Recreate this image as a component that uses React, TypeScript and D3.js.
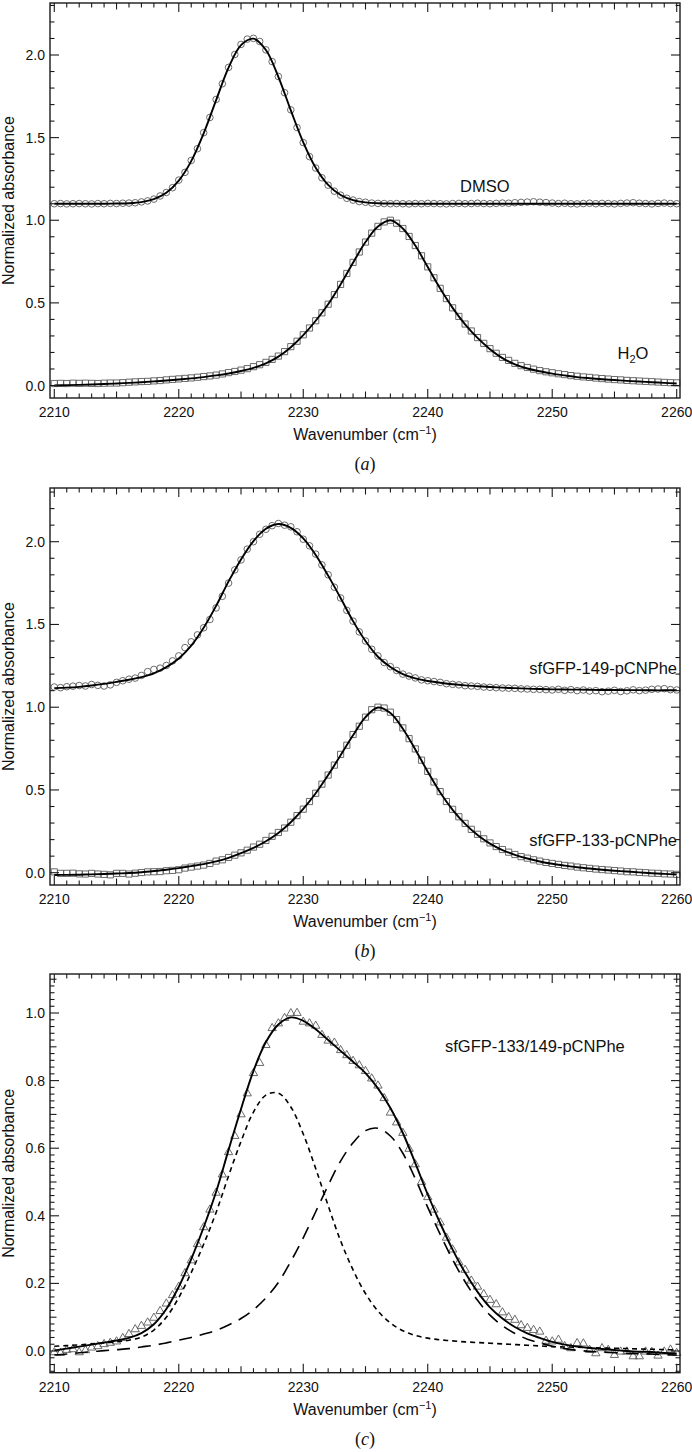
import React from "react";
import * as d3 from "d3";

// ---------------- data ----------------
const X_TICK_VALUES = [2210, 2220, 2230, 2240, 2250, 2260];
const X_TICK_LABELS = ["2210", "2220", "2230", "2240", "2250", "2260"];
const Y_TICKS_AB = [0, 0.5, 1.0, 1.5, 2.0];
const Y_TICK_LABELS_AB = ["0.0", "0.5", "1.0", "1.5", "2.0"];
const Y_TICKS_C = [0, 0.2, 0.4, 0.6, 0.8, 1.0];
const Y_TICK_LABELS_C = ["0.0", "0.2", "0.4", "0.6", "0.8", "1.0"];

// fitted curves sampled every 1 cm-1 from 2210 to 2260
const FIT_X0 = 2210;
const FIT_DX = 1;
// measured points every 0.5 cm-1 from 2210 to 2260
const PT_X0 = 2210;
const PT_DX = 0.5;

// panel (a)
const DMSO_FIT = [
  1.1, 1.1, 1.1, 1.1, 1.1,
  1.101, 1.103, 1.11, 1.128, 1.166,
  1.24, 1.358, 1.526, 1.727, 1.924,
  2.06, 2.099, 2.03, 1.868, 1.665,
  1.472, 1.318, 1.214, 1.153, 1.122,
  1.108, 1.103, 1.101, 1.1, 1.1,
  1.1, 1.1, 1.1, 1.1, 1.1,
  1.1, 1.1, 1.1, 1.1, 1.1,
  1.1, 1.1, 1.1, 1.1, 1.1,
  1.1, 1.1, 1.1, 1.1, 1.1,
  1.1,
];
const DMSO_PTS = [
  1.1, 1.101, 1.099, 1.1, 1.101, 1.1, 1.099, 1.101, 1.1, 1.102,
  1.101, 1.103, 1.104, 1.106, 1.111, 1.117, 1.128, 1.147, 1.168, 1.197,
  1.243, 1.29, 1.362, 1.433, 1.53, 1.622, 1.731, 1.826, 1.925, 2.003,
  2.064, 2.096, 2.101, 2.082, 2.031, 1.96, 1.87, 1.772, 1.668, 1.561,
  1.47, 1.385, 1.316, 1.257, 1.212, 1.176, 1.152, 1.133, 1.122, 1.113,
  1.109, 1.104, 1.102, 1.101, 1.1, 1.101, 1.1, 1.099, 1.101, 1.1,
  1.102, 1.101, 1.1, 1.099, 1.101, 1.102, 1.1, 1.101, 1.103, 1.101,
  1.1, 1.102, 1.104, 1.103, 1.106, 1.108, 1.11, 1.112, 1.109, 1.107,
  1.104, 1.101, 1.103, 1.1, 1.099, 1.101, 1.103, 1.1, 1.102, 1.101,
  1.099, 1.102, 1.104, 1.106, 1.103, 1.101, 1.099, 1.102, 1.104, 1.101,
  1.1,
];
const H2O_FIT = [
  0.0, 0.002, 0.004, 0.006, 0.009,
  0.012, 0.016, 0.02, 0.025, 0.03,
  0.036, 0.043, 0.051, 0.061, 0.073,
  0.088, 0.107, 0.134, 0.175, 0.232,
  0.305, 0.392, 0.492, 0.612, 0.743,
  0.868, 0.962, 1.0, 0.95, 0.847,
  0.717, 0.587, 0.47, 0.37, 0.288,
  0.22, 0.166, 0.128, 0.103, 0.086,
  0.072, 0.061, 0.051, 0.044, 0.038,
  0.033, 0.028, 0.024, 0.02, 0.016,
  0.012,
];
const H2O_PTS = [
  0.012, 0.013, 0.012, 0.014, 0.013, 0.014, 0.013, 0.012, 0.014, 0.015,
  0.015, 0.017, 0.02, 0.022, 0.024, 0.025, 0.028, 0.03, 0.034, 0.037,
  0.04, 0.043, 0.046, 0.05, 0.054, 0.058, 0.063, 0.07, 0.078, 0.085,
  0.093, 0.102, 0.114, 0.126, 0.14, 0.158, 0.178, 0.205, 0.235, 0.268,
  0.307, 0.348, 0.392, 0.44, 0.492, 0.55, 0.612, 0.678, 0.745, 0.808,
  0.868, 0.922, 0.963, 0.99, 1.0, 0.982, 0.95, 0.902, 0.847, 0.785,
  0.718, 0.652, 0.588, 0.526, 0.47, 0.418, 0.372, 0.33, 0.29, 0.255,
  0.223, 0.195, 0.17, 0.152, 0.134, 0.12, 0.109, 0.099, 0.09, 0.083,
  0.077, 0.071, 0.066, 0.06, 0.056, 0.052, 0.049, 0.045, 0.042, 0.039,
  0.036, 0.034, 0.031, 0.029, 0.027, 0.025, 0.023, 0.021, 0.019, 0.017,
  0.016,
];

// panel (b)
const P149_FIT = [
  1.115, 1.118, 1.123, 1.131, 1.141,
  1.153, 1.166, 1.182, 1.205, 1.242,
  1.294, 1.372, 1.48, 1.612, 1.76,
  1.893, 2.004, 2.078, 2.107, 2.084,
  2.02, 1.92, 1.795, 1.66, 1.52,
  1.4, 1.305, 1.243, 1.2, 1.174,
  1.158, 1.148, 1.139, 1.132, 1.127,
  1.122, 1.118, 1.115, 1.112, 1.11,
  1.108, 1.107, 1.106, 1.105, 1.104,
  1.104, 1.103, 1.103, 1.102, 1.102,
  1.102,
];
const P149_PTS = [
  1.122, 1.118, 1.124, 1.127, 1.131, 1.128, 1.137, 1.132, 1.128, 1.135,
  1.15, 1.16, 1.169, 1.176, 1.192, 1.215, 1.228, 1.236, 1.252, 1.28,
  1.31, 1.36, 1.395, 1.437, 1.48, 1.53, 1.6, 1.67, 1.75, 1.83,
  1.89, 1.955, 2.0, 2.045, 2.075, 2.097, 2.11, 2.1, 2.09, 2.06,
  2.015, 1.975, 1.925, 1.86, 1.8, 1.725, 1.66, 1.585, 1.52, 1.455,
  1.4, 1.35, 1.31, 1.27, 1.245, 1.222, 1.2, 1.188, 1.177, 1.165,
  1.16, 1.155, 1.15, 1.142, 1.138, 1.135, 1.13, 1.128, 1.126, 1.122,
  1.12, 1.118, 1.116, 1.115, 1.114, 1.111, 1.11, 1.108, 1.108, 1.106,
  1.104, 1.108, 1.102, 1.106, 1.1, 1.104, 1.098, 1.1, 1.094, 1.097,
  1.102, 1.095, 1.099, 1.105, 1.1, 1.103, 1.108, 1.11, 1.112, 1.106,
  1.104,
];
const P133_FIT = [
  -0.014, -0.013, -0.012, -0.01, -0.008,
  -0.005, -0.002, 0.003, 0.01, 0.018,
  0.028, 0.04, 0.052, 0.068, 0.09,
  0.118, 0.15, 0.19, 0.24, 0.305,
  0.385, 0.48, 0.59, 0.71, 0.83,
  0.94, 0.998, 0.965, 0.87, 0.745,
  0.61, 0.485, 0.38, 0.295, 0.228,
  0.176, 0.137, 0.108, 0.086, 0.068,
  0.054, 0.043, 0.033, 0.025, 0.018,
  0.012, 0.007, 0.002, -0.003, -0.007,
  -0.011,
];
const P133_PTS = [
  0.005, -0.004, -0.004, -0.003, -0.007, -0.008, -0.004, -0.008, -0.01, -0.013,
  -0.004, -0.004, -0.008, -0.003, 0.001, 0.005, 0.006, 0.007, 0.012, 0.014,
  0.018, 0.028, 0.034, 0.04, 0.046, 0.056, 0.07, 0.078, 0.092, 0.106,
  0.12, 0.136, 0.155, 0.172, 0.195, 0.22, 0.243, 0.27, 0.305, 0.345,
  0.384, 0.43, 0.48, 0.535, 0.59, 0.65, 0.715, 0.77, 0.835, 0.885,
  0.94, 0.985, 1.0, 0.995, 0.97, 0.925, 0.875, 0.81, 0.748, 0.68,
  0.612, 0.548, 0.49, 0.43, 0.383, 0.338, 0.298, 0.262, 0.232, 0.205,
  0.18, 0.158, 0.14, 0.124, 0.11, 0.097, 0.088, 0.078, 0.07, 0.062,
  0.056, 0.05, 0.044, 0.04, 0.034, 0.03, 0.026, 0.022, 0.019, 0.016,
  0.013, 0.01, 0.006, 0.005, 0.002, 0.0, -0.003, -0.004, -0.007, -0.008,
  -0.01,
];

// panel (c)
const C_TOTAL_FIT = [
  0.002, 0.007, 0.013, 0.019, 0.025,
  0.031, 0.039, 0.053, 0.079, 0.124,
  0.19, 0.272, 0.366, 0.471, 0.595,
  0.716, 0.829, 0.914, 0.966, 0.987,
  0.977, 0.952, 0.92, 0.888, 0.856,
  0.822, 0.777, 0.719, 0.645, 0.556,
  0.463, 0.378, 0.3, 0.232, 0.175,
  0.129, 0.096, 0.071, 0.052, 0.039,
  0.027, 0.019, 0.013, 0.009, 0.006,
  0.003, 0.0, -0.002, -0.003, -0.006,
  -0.007,
];
const C_BAND1_FIT = [
  0.014, 0.016, 0.018, 0.021, 0.024,
  0.027, 0.032, 0.041, 0.062, 0.1,
  0.158, 0.232, 0.316, 0.41, 0.518,
  0.62, 0.707, 0.757, 0.763, 0.722,
  0.642, 0.54, 0.43, 0.326, 0.24,
  0.17, 0.118, 0.083, 0.06, 0.046,
  0.038, 0.033, 0.03, 0.027, 0.025,
  0.023, 0.021, 0.019, 0.017, 0.015,
  0.013, 0.012, 0.011, 0.01, 0.009,
  0.008, 0.007, 0.006, 0.005, 0.004,
  0.003,
];
const C_BAND2_FIT = [
  -0.012, -0.009, -0.005, -0.002, 0.001,
  0.004, 0.007, 0.012, 0.017, 0.024,
  0.032, 0.04, 0.05, 0.061, 0.077,
  0.096, 0.122, 0.157, 0.203, 0.265,
  0.335, 0.412, 0.49, 0.562, 0.616,
  0.652, 0.659, 0.636, 0.585, 0.51,
  0.425, 0.345, 0.27, 0.205, 0.15,
  0.106, 0.075, 0.052, 0.035, 0.024,
  0.014, 0.007, 0.002, -0.001, -0.003,
  -0.005, -0.007, -0.008, -0.009, -0.011,
  -0.012,
];
const C_PTS = [
  -0.004, -0.006, 0.003, 0.005, -0.004, 0.002, 0.01, 0.014, 0.02, 0.024,
  0.028, 0.038, 0.05, 0.064, 0.074, 0.084, 0.098, 0.118, 0.14, 0.165,
  0.19, 0.23, 0.268, 0.316, 0.366, 0.418, 0.468, 0.522, 0.588, 0.636,
  0.7, 0.762, 0.822, 0.852, 0.905, 0.955, 0.969, 0.985, 0.999, 1.0,
  0.974, 0.969, 0.962, 0.935, 0.918, 0.912, 0.89, 0.875, 0.858, 0.845,
  0.828, 0.806, 0.785, 0.748, 0.705, 0.676, 0.645, 0.598, 0.552, 0.5,
  0.455, 0.418, 0.38, 0.335, 0.3, 0.262, 0.24, 0.208, 0.19, 0.168,
  0.151, 0.138, 0.114, 0.1, 0.092, 0.076, 0.068, 0.062, 0.057, 0.03,
  0.028, 0.033, 0.014, 0.008, 0.023, 0.022, 0.003, -0.007, 0.008, 0.003,
  -0.012, -0.002, -0.002, -0.016, -0.016, -0.002, -0.003, -0.014, -0.002, 0.004,
  -0.006,
];

// ---------------- layout ----------------
const W = 692;
const H = 1452;
const PLOT_L = 50;
const PLOT_R = 680;
const SANS = "'Liberation Sans', Arial, Helvetica, sans-serif";
const SERIF = "'Liberation Serif', 'Times New Roman', serif";

const xScale = d3.scaleLinear().domain([2209.655, 2260.265]).range([PLOT_L, PLOT_R]);

type MarkerKind = "circle" | "square" | "triangle";
interface LineSpec { values: number[]; dash?: string; width?: number }
interface MarkerSpec { values: number[]; kind: MarkerKind }
interface LabelSpec { node: React.ReactNode; x: number; y: number; anchor: "start" | "end" }
interface PanelSpec {
  top: number;
  bottom: number;
  yDomain: [number, number];
  yTicks: number[];
  yTickLabels: string[];
  minorStep: number;
  majorEvery: number;
  midEvery: number;
  lines: LineSpec[];
  markers: MarkerSpec[];
  labels: LabelSpec[];
  caption: string;
}

const symTri = d3.symbol().type(d3.symbolTriangle).size(30)() as string;
const symSq = d3.symbol().type(d3.symbolSquare).size(38)() as string;

function Panel({ spec }: { spec: PanelSpec }) {
  const { top, bottom } = spec;
  const y = d3.scaleLinear().domain(spec.yDomain).range([bottom, top]);
  const line = d3
    .line<[number, number]>()
    .x((d) => xScale(d[0]))
    .y((d) => y(d[1]))
    .curve(d3.curveCatmullRom.alpha(0.5));

  const xMinor = d3.range(2210, 2261, 1);
  const kStart = Math.ceil(spec.yDomain[0] / spec.minorStep - 1e-9);
  const kEnd = Math.floor(spec.yDomain[1] / spec.minorStep + 1e-9);
  const yMinor = d3.range(kStart, kEnd + 1);

  const mid = (top + bottom) / 2;
  const axisColor = "#1a1a1a";

  return (
    <g>
      {spec.markers.map((m, mi) => (
        <g key={"m" + mi} fill="none" stroke="#5a5a5a" strokeWidth={0.9}>
          {m.values.map((v, i) => {
            const px = xScale(PT_X0 + i * PT_DX);
            const py = y(v);
            if (m.kind === "circle") return <circle key={i} cx={px} cy={py} r={3.3} />;
            if (m.kind === "square") return <path key={i} d={symSq} transform={`translate(${px},${py})`} />;
            return <path key={i} d={symTri} transform={`translate(${px},${py})`} />;
          })}
        </g>
      ))}
      {spec.lines.map((l, li) => (
        <path
          key={"l" + li}
          d={line(l.values.map((v, i) => [FIT_X0 + i * FIT_DX, v] as [number, number])) || ""}
          fill="none"
          stroke="#000"
          strokeWidth={l.width ?? 1.9}
          strokeDasharray={l.dash}
        />
      ))}
      <rect x={PLOT_L} y={top} width={PLOT_R - PLOT_L} height={bottom - top} fill="none" stroke={axisColor} strokeWidth={1.4} />
      {xMinor.map((v) => {
        const len = v % 10 === 0 ? 9 : v % 5 === 0 ? 6.5 : 4.5;
        const px = xScale(v);
        return (
          <g key={"xt" + v} stroke={axisColor} strokeWidth={1.1}>
            <line x1={px} x2={px} y1={bottom} y2={bottom - len} />
            <line x1={px} x2={px} y1={top} y2={top + len} />
          </g>
        );
      })}
      {yMinor.map((k) => {
        const v = k * spec.minorStep;
        const len = k % spec.majorEvery === 0 ? 9 : k % spec.midEvery === 0 ? 6.5 : 4.5;
        const py = y(v);
        return (
          <g key={"yt" + k} stroke={axisColor} strokeWidth={1.1}>
            <line x1={PLOT_L} x2={PLOT_L + len} y1={py} y2={py} />
            <line x1={PLOT_R} x2={PLOT_R - len} y1={py} y2={py} />
          </g>
        );
      })}
      {X_TICK_VALUES.map((v, i) => (
        <text key={"xl" + v} x={xScale(v)} y={bottom + 19.3} textAnchor="middle" fontFamily={SANS} fontSize={14} fill="#111">
          {X_TICK_LABELS[i]}
        </text>
      ))}
      {spec.yTicks.map((v, i) => (
        <text key={"yl" + v} x={45} y={y(v)} dy="0.36em" textAnchor="end" fontFamily={SANS} fontSize={14} fill="#111">
          {spec.yTickLabels[i]}
        </text>
      ))}
      <text x={(PLOT_L + PLOT_R) / 2} y={bottom + 42} textAnchor="middle" fontFamily={SANS} fontSize={16} fill="#111">
        Wavenumber (cm
        <tspan dy={-6} fontSize={11}>−1</tspan>
        <tspan dy={6}>)</tspan>
      </text>
      <text
        transform={`translate(14,${mid}) rotate(-90)`}
        textAnchor="middle"
        fontFamily={SANS}
        fontSize={16}
        fill="#111"
      >
        Normalized absorbance
      </text>
      {spec.labels.map((lb, i) => (
        <text key={"lb" + i} x={lb.x} y={lb.y} textAnchor={lb.anchor} fontFamily={SANS} fontSize={16.5} fill="#111">
          {lb.node}
        </text>
      ))}
      <text x={(PLOT_L + PLOT_R) / 2} y={bottom + 72} textAnchor="middle" fontFamily={SERIF} fontSize={18} fill="#111">
        (<tspan fontStyle="italic">{spec.caption}</tspan>)
      </text>
    </g>
  );
}

const PANELS: PanelSpec[] = [
  {
    top: 3,
    bottom: 398,
    yDomain: [-0.0756, 2.3147],
    yTicks: Y_TICKS_AB,
    yTickLabels: Y_TICK_LABELS_AB,
    minorStep: 0.1,
    majorEvery: 5,
    midEvery: 5,
    markers: [
      { values: DMSO_PTS, kind: "circle" },
      { values: H2O_PTS, kind: "square" },
    ],
    lines: [{ values: DMSO_FIT }, { values: H2O_FIT }],
    labels: [
      { node: "DMSO", x: 460, y: 192, anchor: "start" },
      {
        node: (
          <>
            H<tspan dy={4} fontSize={11}>2</tspan>
            <tspan dy={-4}>O</tspan>
          </>
        ),
        x: 617.5,
        y: 359.3,
        anchor: "start",
      },
    ],
    caption: "a",
  },
  {
    top: 488,
    bottom: 885,
    yDomain: [-0.0743, 2.3245],
    yTicks: Y_TICKS_AB,
    yTickLabels: Y_TICK_LABELS_AB,
    minorStep: 0.1,
    majorEvery: 5,
    midEvery: 5,
    markers: [
      { values: P149_PTS, kind: "circle" },
      { values: P133_PTS, kind: "square" },
    ],
    lines: [{ values: P149_FIT }, { values: P133_FIT }],
    labels: [
      { node: "sfGFP-149-pCNPhe", x: 677, y: 674, anchor: "end" },
      { node: "sfGFP-133-pCNPhe", x: 677, y: 846, anchor: "end" },
    ],
    caption: "b",
  },
  {
    top: 974,
    bottom: 1372.7,
    yDomain: [-0.0642, 1.1154],
    yTicks: Y_TICKS_C,
    yTickLabels: Y_TICK_LABELS_C,
    minorStep: 0.02,
    majorEvery: 10,
    midEvery: 5,
    markers: [{ values: C_PTS, kind: "triangle" }],
    lines: [
      { values: C_BAND1_FIT, dash: "5,4", width: 1.6 },
      { values: C_BAND2_FIT, dash: "13,8", width: 1.6 },
      { values: C_TOTAL_FIT },
    ],
    labels: [{ node: "sfGFP-133/149-pCNPhe", x: 445, y: 1052, anchor: "start" }],
    caption: "c",
  },
];

export default function App() {
  return (
    <div style={{ position: "absolute", left: 0, top: 0, width: W, height: H, background: "#fff" }}>
      <svg width={W} height={H} viewBox={`0 0 ${W} ${H}`} style={{ display: "block" }}>
        <rect x={0} y={0} width={W} height={H} fill="#fff" />
        {PANELS.map((p, i) => (
          <Panel key={i} spec={p} />
        ))}
      </svg>
    </div>
  );
}
